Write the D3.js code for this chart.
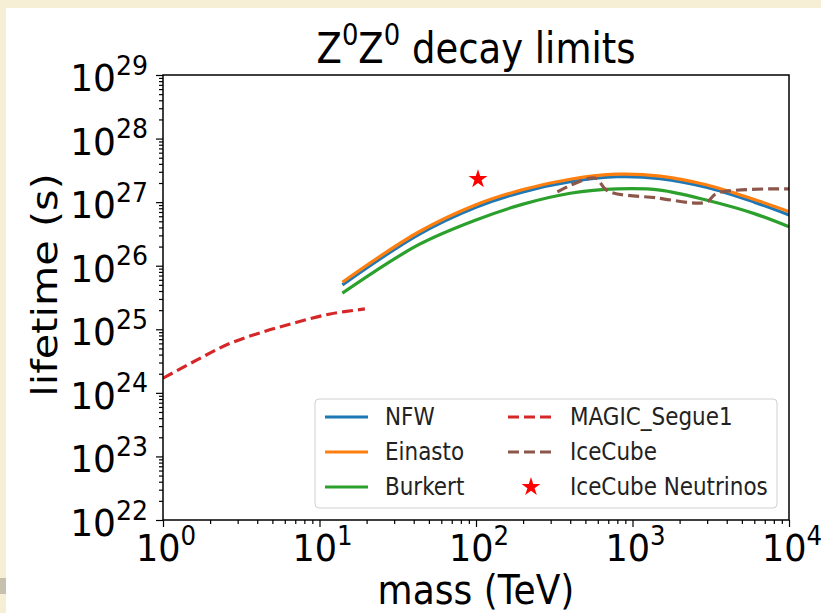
<!DOCTYPE html>
<html>
<head>
<meta charset="utf-8">
<script src="https://cdn.jsdelivr.net/npm/d3@7"></script>
<style>
  body { margin: 0; background: #f6eed5; }
  svg { display: block; font-family: "DejaVu Sans", sans-serif; }
</style>
</head>
<body>
<svg id="chart" width="821" height="613"></svg>
<script>
// halo profiles, mass in TeV, lifetime in s
var masses = [14, 43, 100, 200, 400, 800, 1500, 3000, 6000, 10000];
var nfw = [5.0e25, 3.09e26, 8.3e26, 1.45e27, 2.09e27, 2.51e27, 2.34e27, 1.70e27, 1.0e27, 6.3e26];
var einasto = [5.5e25, 3.39e26, 9.1e26, 1.58e27, 2.29e27, 2.75e27, 2.57e27, 1.86e27, 1.1e27, 7.1e26];
var burkert = [3.7e25, 2.14e26, 5.25e26, 9.3e26, 1.38e27, 1.62e27, 1.55e27, 1.07e27, 6.6e26, 4.1e26];

var magicMass = [1, 1.65, 2.68, 4.37, 7.16, 11.7, 19.5];
var magicLife = [1.7e24, 3.3e24, 6.0e24, 9.1e24, 1.29e25, 1.74e25, 2.09e25];

var icecubeMass = [331, 575, 692, 1413, 2951, 3467, 10000];
var icecubeLife = [1.45e27, 2.4e27, 1.51e27, 1.17e27, 1.0e27, 1.38e27, 1.62e27];

var neutrinoMass = [103];
var neutrinoLife = [2.3e27];

var xTicks = [0, 1, 2, 3, 4];
var yTicks = [22, 23, 24, 25, 26, 27, 28, 29];

var svg = d3.select("#chart");

// white panel over the beige page
svg.append("rect").attr("x", 6).attr("y", 8).attr("width", 815).attr("height", 605).attr("fill", "#fff");
svg.append("rect").attr("x", 0).attr("y", 578).attr("width", 6).attr("height", 16).attr("fill", "#c6c0ae");

var pLeft = 163, pRight = 789, pTop = 75, pBottom = 520;
var stretch = 1.15; // the reference glyphs are a bit taller than wide

var x = d3.scaleLog().domain([1, 1e4]).range([pLeft, pRight]);
var y = d3.scaleLog().domain([1e22, 1e29]).range([pBottom, pTop]);

svg.append("clipPath").attr("id", "clip")
  .append("rect").attr("x", pLeft).attr("y", pTop).attr("width", pRight - pLeft).attr("height", pBottom - pTop);

var plot = svg.append("g").attr("clip-path", "url(#clip)");

function zip(ms, ls) {
  return ms.map(function(m, i) { return [m, ls[i]]; });
}

var line = d3.line()
  .x(function(d) { return x(d[0]); })
  .y(function(d) { return y(d[1]); })
  .curve(d3.curveCatmullRom.alpha(0.5));

var series = [
  {name: "NFW", data: zip(masses, nfw), color: "#1f77b4", dash: null},
  {name: "Einasto", data: zip(masses, einasto), color: "#ff7f0e", dash: null},
  {name: "Burkert", data: zip(masses, burkert), color: "#2ca02c", dash: null},
  {name: "MAGIC_Segue1", data: zip(magicMass, magicLife), color: "#d62728", dash: "11,5"},
  {name: "IceCube", data: zip(icecubeMass, icecubeLife), color: "#8c564b", dash: "11,5"}
];

series.forEach(function(s) {
  plot.append("path")
    .datum(s.data)
    .attr("d", line)
    .attr("fill", "none")
    .attr("stroke", s.color)
    .attr("stroke-width", 3.2)
    .attr("stroke-dasharray", s.dash);
});

var star = d3.symbol().type(d3.symbolStar).size(110);
plot.selectAll(".star")
  .data(zip(neutrinoMass, neutrinoLife))
  .enter().append("path")
  .attr("d", star)
  .attr("transform", function(d) { return "translate(" + x(d[0]) + "," + y(d[1]) + ")"; })
  .attr("fill", "#ff0000");

// axes
var minorX = [];
for (var e = 0; e < 4; e++) for (var k = 2; k < 10; k++) minorX.push(k * Math.pow(10, e));
var minorY = [];
for (var e = 22; e < 29; e++) for (var k = 2; k < 10; k++) minorY.push(k * Math.pow(10, e));

var majX = xTicks.map(function(p) { return Math.pow(10, p); });
var majY = yTicks.map(function(p) { return Math.pow(10, p); });

function styleAxis(g) {
  g.select(".domain").remove();
  g.selectAll(".tick line").attr("stroke", "#000").attr("stroke-width", 1.2);
}

svg.append("g").attr("transform", "translate(0," + pBottom + ")")
  .call(d3.axisBottom(x).tickValues(minorX).tickSize(4).tickFormat(""))
  .call(styleAxis);
svg.append("g").attr("transform", "translate(0," + pBottom + ")")
  .call(d3.axisBottom(x).tickValues(majX).tickSize(7).tickFormat(""))
  .call(styleAxis);
svg.append("g").attr("transform", "translate(" + pLeft + ",0)")
  .call(d3.axisLeft(y).tickValues(minorY).tickSize(4).tickFormat(""))
  .call(styleAxis);
svg.append("g").attr("transform", "translate(" + pLeft + ",0)")
  .call(d3.axisLeft(y).tickValues(majY).tickSize(7).tickFormat(""))
  .call(styleAxis);

svg.append("rect")
  .attr("x", pLeft).attr("y", pTop).attr("width", pRight - pLeft).attr("height", pBottom - pTop)
  .attr("fill", "none").attr("stroke", "#000").attr("stroke-width", 1.5);

// text placed at (tx, ty) and stretched vertically like the reference
function label(tx, ty, size, anchor, sy) {
  return svg.append("text")
    .attr("transform", "translate(" + tx + "," + ty + ") scale(1," + (sy || stretch) + ")")
    .attr("text-anchor", anchor)
    .attr("font-size", size);
}

function powLabel(sel, p) {
  sel.append("tspan").text("10");
  sel.append("tspan").attr("font-size", "0.7em").attr("dy", "-0.62em").text(p);
}

xTicks.forEach(function(p) {
  powLabel(label(x(Math.pow(10, p)) + 3, 561, 35, "middle", 1.05), p);
});

yTicks.forEach(function(p) {
  powLabel(label(148, y(Math.pow(10, p)) + 16, 36, "end", 1.05), p);
});

label(476, 604, 36, "middle").text("mass (TeV)");

svg.append("text")
  .attr("transform", "translate(57,285) scale(1," + stretch + ") rotate(-90)")
  .attr("text-anchor", "middle")
  .attr("font-size", 36)
  .text("lifetime (s)");

var title = label(476, 63, 37, "middle");
title.append("tspan").text("Z");
title.append("tspan").attr("font-size", "0.7em").attr("dy", "-0.6em").text("0");
title.append("tspan").attr("dy", "0.42em").text("Z");
title.append("tspan").attr("font-size", "0.7em").attr("dy", "-0.6em").text("0");
title.append("tspan").attr("dy", "0.42em").text(" decay limits");

// legend
var lg = svg.append("g");
lg.append("rect").attr("x", 315).attr("y", 399).attr("width", 462).attr("height", 109)
  .attr("rx", 4).attr("fill", "#fff").attr("fill-opacity", 0.8).attr("stroke", "#d0d0d0").attr("stroke-width", 1);

var legendItems = series.map(function(s) { return {name: s.name, color: s.color, dash: s.dash, star: false}; });
legendItems.push({name: "IceCube Neutrinos", color: "#ff0000", star: true});

legendItems.forEach(function(d, i) {
  var col = Math.floor(i / 3), row = i % 3;
  var hx = col === 0 ? 325 : 508;
  var tx = col === 0 ? 385 : 570;
  var yy = 417 + row * 35;
  if (d.star) {
    lg.append("path").attr("d", star).attr("transform", "translate(" + (hx + 23) + "," + yy + ")").attr("fill", d.color);
  } else {
    lg.append("line").attr("x1", hx).attr("x2", hx + 43).attr("y1", yy).attr("y2", yy)
      .attr("stroke", d.color).attr("stroke-width", 3.2).attr("stroke-dasharray", d.dash);
  }
  lg.append("text")
    .attr("transform", "translate(" + tx + "," + (yy + 8) + ") scale(1," + stretch + ")")
    .attr("font-size", 21.5).attr("fill", "#222").text(d.name);
});
</script>
</body>
</html>
